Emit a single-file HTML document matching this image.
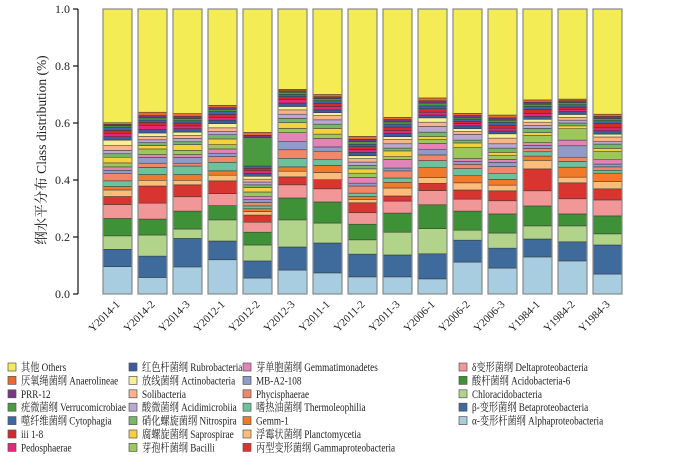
<!DOCTYPE html>
<html><head><meta charset="utf-8"><style>
body{margin:0;background:#fff;}
svg text{font-family:"Liberation Serif","Noto Serif CJK SC","Noto Sans CJK SC",serif;fill:#222;}
</style></head><body>
<svg id="chart" width="700" height="459" xmlns="http://www.w3.org/2000/svg"></svg>
<script>
const samples=["Y2014-1","Y2014-2","Y2014-3","Y2012-1","Y2012-2","Y2012-3","Y2011-1","Y2011-2","Y2011-3","Y2006-1","Y2006-2","Y2006-3","Y1984-1","Y1984-2","Y1984-3"];
const yTicks=[0,0.2,0.4,0.6,0.8,1.0];
const alpha=[.096,.058,.095,.12,.056,.084,.074,.06,.06,.053,.112,.091,.13,.116,.07];
const beta=[.061,.075,.1,.066,.06,.081,.105,.08,.077,.088,.077,.07,.063,.067,.102];
const chloro=[.047,.074,.033,.074,.056,.095,.07,.05,.08,.088,.035,.053,.046,.056,.039];
const acido6=[.061,.056,.063,.05,.045,.077,.074,.055,.067,.084,.067,.067,.07,.042,.063];
const delta=[.049,.056,.05,.042,.035,.046,.046,.04,.042,.05,.042,.046,.053,.053,.056];
const gamma=[.028,.06,.042,.045,.025,.028,.032,.035,.018,.025,.032,.035,.077,.056,.039];
const plancto=[.023,.02,.016,.02,.012,.02,.025,.012,.028,.02,.025,.02,.03,.02,.025];
const gemm1=[.012,.02,.02,.015,.01,.015,.025,.01,.02,.035,.025,.02,.015,.035,.03];
const thermo=[.02,.025,.03,.03,.01,.03,.02,.012,.015,.025,.025,.02,.015,.02,.01];
const phycis=[.025,.015,.01,.02,.012,.03,.03,.025,.025,.02,.015,.025,.012,.015,.012];
const mba2=[.012,.02,.02,.012,.01,.03,.015,.01,.01,.02,.01,.015,.01,.04,.01];
const gemmat=[.012,.01,.01,.015,.012,.03,.03,.02,.03,.02,.01,.01,.01,.02,.015];
const bacilli=[.014,.02,.015,.015,.015,.015,.015,.015,.01,.015,.04,.015,.025,.04,.03];
const saprosp=[.02,.012,.02,.02,.015,.02,.02,.015,.02,.01,.015,.01,.01,.01,.01];
const nitro=[.012,.01,.01,.015,.01,.015,.015,.012,.01,.015,.01,.015,.015,.01,.015];
const acidimic=[.012,.01,.012,.012,.01,.015,.015,.012,.015,.02,.02,.015,.01,.01,.01];
const solib=[.018,.012,.01,.012,.01,.015,.015,.012,.015,.015,.01,.02,.012,.01,.015];
const actino=[.018,.012,.012,.015,.01,.012,.01,.01,.01,.015,.01,.015,.01,.01,.01];
const rubro=[.012,.012,.012,.012,.01,.012,.01,.012,.012,.01,.01,.01,.01,.01,.012];
const pedo=[.012,.015,.01,.01,.01,.012,.012,.01,.01,.01,.008,.01,.01,.008,.01];
const iii18=[.01,.01,.01,.01,.008,.01,.01,.01,.012,.012,.008,.01,.015,.008,.015];
const cyto=[.01,.008,.008,.01,.008,.008,.01,.008,.01,.01,.008,.01,.01,.008,.01];
const verru=[.006,.008,.008,.008,.1,.008,.008,.01,.008,.01,.006,.008,.008,.008,.008];
const prr12=[.005,.008,.007,.006,.008,.005,.006,.008,.008,.008,.006,.008,.007,.006,.007];
const anaero=[.006,.012,.01,.008,.01,.005,.008,.01,.008,.01,.008,.01,.008,.006,.008];

const series=[
["alpha",alpha,"#a8cde0"],["beta",beta,"#3e6a9c"],["chloro",chloro,"#b1d48a"],["acido6",acido6,"#3f9138"],
["delta",delta,"#f29797"],["gamma",gamma,"#d93530"],["plancto",plancto,"#fdbd7a"],["gemm1",gemm1,"#f07a2a"],
["thermo",thermo,"#6cc29f"],["phycis",phycis,"#f0876a"],["mba2",mba2,"#8f9bc8"],["gemmat",gemmat,"#e384b8"],
["bacilli",bacilli,"#9cc75a"],["saprosp",saprosp,"#f7d040"],["nitro",nitro,"#75b86a"],["acidimic",acidimic,"#bba7d2"],
["solib",solib,"#f9b48a"],["actino",actino,"#f8f096"],["rubro",rubro,"#3b5aa0"],["pedo",pedo,"#e5277a"],
["iii18",iii18,"#d42a2e"],["cyto",cyto,"#3d68a8"],["verru",verru,"#4a9a40"],["prr12",prr12,"#7c3584"],["anaero",anaero,"#e96a2a"]];

const svg=document.getElementById('chart');
const NS="http://www.w3.org/2000/svg";
function mk(t,a,p){const e=document.createElementNS(NS,t);for(const k in a)e.setAttribute(k,a[k]);(p||svg).appendChild(e);return e;}
const y0=294,y1=9;
function yS(v){return y0-(y0-y1)*v;}
function xS(i){return 103+i*35;}
const bw=29;

const ax=mk('line',{x1:78,y1:y1,x2:78,y2:y0,stroke:'#111','stroke-width':1.2});


yTicks.forEach(t=>{
  const tk=mk('line',{x1:73,x2:78,y1:yS(t),y2:yS(t),stroke:'#111','stroke-width':1.2});
  
  
  const lb=mk('text',{x:70,y:yS(t)+4,'text-anchor':'end','font-size':12});
  lb.textContent=t.toFixed(1);
  
  
});
const yt=mk('text',{transform:'translate(46,150) rotate(-90)','text-anchor':'middle','font-size':13.5});
yt.textContent='纲水平分布 Class distribution (%)';



samples.forEach((s,i)=>{
  const g=mk('g',{});
  
  
  let cum=0;
  series.forEach(([n,arr,c])=>{
    const v=arr[i];
    const r=mk('rect',{x:xS(i),y:yS(cum+v),width:bw,height:yS(cum)-yS(cum+v),fill:c,stroke:'#333','stroke-width':0.5},g);
    
    
    cum+=v;
  });
  const o=mk('rect',{x:xS(i),y:yS(1),width:bw,height:yS(cum)-yS(1),fill:'#f3ec55',stroke:'#333','stroke-width':0.5},g);
  
  
  const b=mk('rect',{x:xS(i),y:yS(1),width:bw,height:y0-y1,fill:'none',stroke:'#888','stroke-width':1.2},g);
  
  
  const cx=xS(i)+bw/2+3;
  const lb=mk('text',{transform:`translate(${cx},305) rotate(-45)`,'text-anchor':'end','font-size':11});
  lb.textContent=s;
  
  
});

const legendNames=[
["其他 Others","#f3ec55"],["厌氧绳菌纲 Anaerolineae","#e96a2a"],["PRR-12","#7c3584"],["疣微菌纲 Verrucomicrobiae","#4a9a40"],["噬纤维菌纲 Cytophagia","#3d68a8"],["iii 1-8","#d42a2e"],["Pedosphaerae","#e5277a"],
["红色杆菌纲 Rubrobacteria","#3b5aa0"],["放线菌纲 Actinobacteria","#f8f096"],["Solibacteria","#f9b48a"],["酸微菌纲 Acidimicrobiia","#bba7d2"],["硝化螺旋菌纲 Nitrospira","#75b86a"],["腐螺旋菌纲 Saprospirae","#f7d040"],["芽孢杆菌纲 Bacilli","#9cc75a"],
["芽单胞菌纲 Gemmatimonadetes","#e384b8"],["MB-A2-108","#8f9bc8"],["Phycisphaerae","#f0876a"],["嗜热油菌纲 Thermoleophilia","#6cc29f"],["Gemm-1","#f07a2a"],["浮霉状菌纲 Planctomycetia","#fdbd7a"],["丙型变形菌纲 Gammaproteobacteria","#d93530"],
["δ变形菌纲 Deltaproteobacteria","#f29797"],["酸杆菌纲 Acidobacteria-6","#3f9138"],["Chloracidobacteria","#b1d48a"],["β-变形菌纲 Betaproteobacteria","#3e6a9c"],["α-变形杆菌纲 Alphaproteobacteria","#a8cde0"]];
const colX=[8,129,243,459],colStart=[0,7,14,21];
legendNames.forEach(([t,c],k)=>{
  let col=k<7?0:k<14?1:k<21?2:3;
  const row=k-colStart[col];
  const yy=367+row*13.4;
  const g=mk('g',{});
  
  
  mk('rect',{x:colX[col],y:yy-4,width:8,height:8,fill:c,stroke:'#555','stroke-width':0.7},g);
  const tg=mk('g',{transform:`translate(${colX[col]+13},${yy+4}) scale(0.8,1)`},g);
  const tx=mk('text',{x:0,y:0,'font-size':11.5},tg);
  tx.textContent=t;
});
</script>
</body></html>
